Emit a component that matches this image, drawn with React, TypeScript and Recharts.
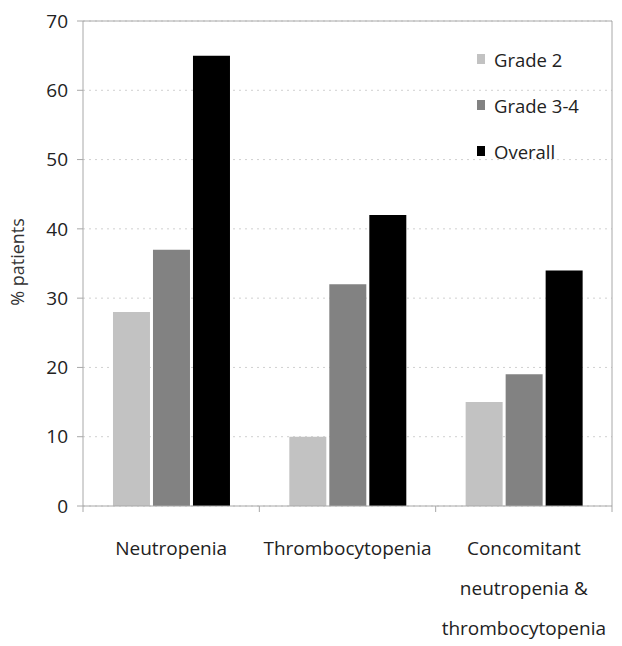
import { BarChart, Bar, XAxis, YAxis, CartesianGrid, Legend, Label } from 'recharts';

const categories = ['Neutropenia', 'Thrombocytopenia', 'Concomitant\nneutropenia &\nthrombocytopenia'];
const grade2 = [28, 10, 15];
const grade34 = [37, 32, 19];
const overall = [65, 42, 34];
const yTicks = [0, 10, 20, 30, 40, 50, 60, 70];

const series = [
    { key: 'grade2', name: 'Grade 2', color: '#c2c2c2' },
    { key: 'grade34', name: 'Grade 3-4', color: '#828282' },
    { key: 'overall', name: 'Overall', color: '#000000' },
];

const data = categories.map((cat, i) => ({
    cat,
    grade2: grade2[i],
    grade34: grade34[i],
    overall: overall[i],
}));

const FONT = '"Open Sans", sans-serif';
const AXIS = '#a8a8a8';
const W = 622;
const H = 646;
const M = { top: 20, right: 9, left: 0, bottom: 0 };
const YW = 83;
const band = (W - M.right - YW) / categories.length;

function CatTick(props: any) {
    const { x, y, payload, index } = props;
    const half = payload?.offset ?? band / 2;
    const lines = String(payload.value).split('\n');
    return (
        <g>
            <line x1={x - half} y1={y - 8} x2={x - half} y2={y - 2} stroke={AXIS} />
            {index === categories.length - 1 && (
                <line x1={x + half} y1={y - 8} x2={x + half} y2={y - 2} stroke={AXIS} />
            )}
            {lines.map((l, i) => (
                <text key={i} x={x} y={y + 41 + i * 40} textAnchor="middle" fontSize={19} fill="#222" fontFamily={FONT}>
                    {l}
                </text>
            ))}
        </g>
    );
}

function LegendBox() {
    return (
        <div style={{ fontFamily: FONT, fontSize: 18.5, color: '#222' }}>
            {series.map((s) => (
                <div key={s.key} style={{ display: 'flex', alignItems: 'center', height: 46 }}>
                    <span style={{ width: 8, height: 10, background: s.color, marginRight: 9, display: 'inline-block' }} />
                    {s.name}
                </div>
            ))}
        </div>
    );
}

export default function App() {
    return (
        <div style={{ position: 'absolute', left: 0, top: 0, background: '#fff' }}>
            <BarChart width={W} height={H} data={data} margin={M} barCategoryGap="17%" barGap={3}>
                <CartesianGrid vertical={false} stroke="#d0d0d0" strokeDasharray="2 4" />
                <XAxis
                    dataKey="cat"
                    height={H - 506}
                    stroke={AXIS}
                    tickLine={false}
                    interval={0}
                    tick={<CatTick />}
                />
                <XAxis xAxisId="top" orientation="top" dataKey="cat" height={1} stroke={AXIS} tick={false} tickLine={false} />
                <YAxis
                    width={YW}
                    domain={[0, 70]}
                    ticks={yTicks}
                    stroke={AXIS}
                    tickSize={6}
                    tickMargin={9}
                    tick={{ fontSize: 19, fill: '#222', fontFamily: FONT }}
                >
                    <Label
                        content={() => (
                            <text transform="translate(24,262) rotate(-90)" textAnchor="middle" fontSize={18} fill="#333" fontFamily={FONT}>
                                % patients
                            </text>
                        )}
                    />
                </YAxis>
                <YAxis yAxisId="right" orientation="right" width={1} domain={[0, 70]} stroke={AXIS} tick={false} tickLine={false} />
                <Legend content={<LegendBox />} layout="horizontal" verticalAlign="middle" align="center" wrapperStyle={{ left: 477, top: 36, width: 140 }} />
                {series.map((s) => (
                    <Bar key={s.key} dataKey={s.key} name={s.name} fill={s.color} isAnimationActive={false} />
                ))}
            </BarChart>
        </div>
    );
}
